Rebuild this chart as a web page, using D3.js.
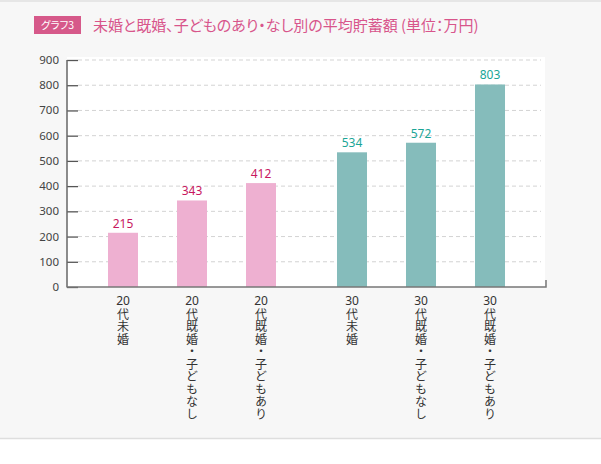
<!DOCTYPE html>
<html><head><meta charset="utf-8">
<script src="https://cdn.jsdelivr.net/npm/d3@7"></script>
<style>
html,body{margin:0;padding:0;background:#fff;}
svg{display:block;font-family:"Noto Sans CJK JP","Noto Sans",sans-serif;}
.palt{font-feature-settings:"palt";}
.vert{writing-mode:vertical-rl;text-orientation:upright;}
</style></head>
<body>
<svg id="chart" width="601" height="464"></svg>
<script>
const categories = ["20代未婚","20代既婚・子どもなし","20代既婚・子どもあり","30代未婚","30代既婚・子どもなし","30代既婚・子どもあり"];
const groups = ["20代","20代","20代","30代","30代","30代"];
const values = [215,343,412,534,572,803];
const yTicks = [0,100,200,300,400,500,600,700,800,900];
const titleText = "未婚と既婚、子どものあり・なし別の平均貯蓄額 (単位：万円)";
const badgeText = "グラフ3";

(function(){
const svg = d3.select("#chart");
const W = 601, H = 464;

// background panel
svg.append("rect").attr("x",0).attr("y",0).attr("width",W).attr("height",438.5).attr("fill","#f7f7f7");
svg.append("line").attr("x1",0).attr("x2",W).attr("y1",1).attr("y2",1).attr("stroke","#e0e0e0").attr("stroke-width",1.5);
svg.append("line").attr("x1",0).attr("x2",W).attr("y1",438.5).attr("y2",438.5).attr("stroke","#dedede").attr("stroke-width",1.5);

// title
svg.append("rect").attr("x",34).attr("y",16).attr("width",47).attr("height",18).attr("fill","#d6598a");
svg.append("text").attr("x",57.5).attr("y",29).attr("text-anchor","middle").attr("fill","#fff")
  .attr("font-size",10.5).attr("class","palt").text(badgeText);
svg.append("text").attr("x",93).attr("y",30.5).attr("fill","#d8558b").attr("font-size",15)
  .attr("class","palt").text(titleText);

// plot
const pLeft = 67, pRight = 545, pTop = 60, pBottom = 287;
svg.append("rect").attr("x",pLeft).attr("y",57).attr("width",pRight-pLeft).attr("height",pBottom-57).attr("fill","#fff");

const y = d3.scaleLinear().domain([0,900]).range([pBottom, pTop]);
const x = d3.scaleBand().domain(categories).range([88.5,502.5]).paddingInner(0.565).paddingOuter(0.2825);
const groupOffset = d3.scaleOrdinal().domain(["20代","30代"]).range([0,22]);
const color = d3.scaleOrdinal().domain(["20代","30代"]).range(["#eeb0d1","#85bcbb"]);
const labelColor = d3.scaleOrdinal().domain(["20代","30代"]).range(["#c8185f","#1aa596"]);
const xc = (d,i) => x(d) + groupOffset(groups[i]) + x.bandwidth()/2;

// gridlines
svg.append("g").selectAll("line").data(yTicks.filter(t=>t>0)).join("line")
  .attr("x1",78).attr("x2",541).attr("y1",d=>y(d)).attr("y2",d=>y(d))
  .attr("stroke","#d3d3d3").attr("stroke-dasharray","4,3").attr("stroke-width",1);

// y axis
const yAxis = d3.axisRight(y).tickValues(yTicks).tickSize(11).tickFormat("");
const ga = svg.append("g").attr("transform",`translate(${pLeft},0)`).call(yAxis);
ga.select(".domain").remove();
ga.selectAll(".tick line").attr("stroke","#555").attr("stroke-width",1.3);
svg.append("g").selectAll("text").data(yTicks).join("text")
  .attr("x",59).attr("y",d=>y(d)).attr("dy","0.35em").attr("text-anchor","end")
  .attr("font-family","'Noto Sans',sans-serif").attr("font-size",11.5).attr("fill","#444").text(d=>d);

// bars
svg.append("g").selectAll("rect").data(categories).join("rect")
  .attr("x",(d,i)=>x(d)+groupOffset(groups[i])).attr("width",x.bandwidth())
  .attr("y",(d,i)=>y(values[i])).attr("height",(d,i)=>y(0)-y(values[i]))
  .attr("fill",(d,i)=>color(groups[i]));

// value labels
svg.append("g").selectAll("text").data(categories).join("text")
  .attr("x",(d,i)=>xc(d,i)).attr("y",(d,i)=>y(values[i])-5).attr("text-anchor","middle")
  .attr("font-family","'Noto Sans',sans-serif").attr("font-size",12)
  .attr("fill",(d,i)=>labelColor(groups[i])).text((d,i)=>values[i]);

// axis lines
svg.append("line").attr("x1",pLeft).attr("x2",pLeft).attr("y1",pTop).attr("y2",pBottom+0.5).attr("stroke","#666").attr("stroke-width",1.5);
svg.append("path").attr("d",`M${pLeft},${pBottom}H${pRight+1}V${pBottom-7}`).attr("fill","none").attr("stroke","#777").attr("stroke-width",1.5);

// vertical category labels: one vertical text per character
const pitch = 12.5;
categories.forEach((c,i)=>{
  const cx = xc(c,i);
  const g = svg.append("g").attr("fill","#333");
  g.append("text").attr("x",cx).attr("y",304.5).attr("text-anchor","middle")
    .attr("font-family","'Noto Sans',sans-serif").attr("font-size",12).text(c.slice(0,2));
  Array.from(c.slice(2)).forEach((ch,j)=>{
    g.append("text").attr("class","vert").attr("x",cx).attr("y",308 + j*pitch)
      .attr("font-size",12).text(ch);
  });
});
})();
</script>
</body></html>
